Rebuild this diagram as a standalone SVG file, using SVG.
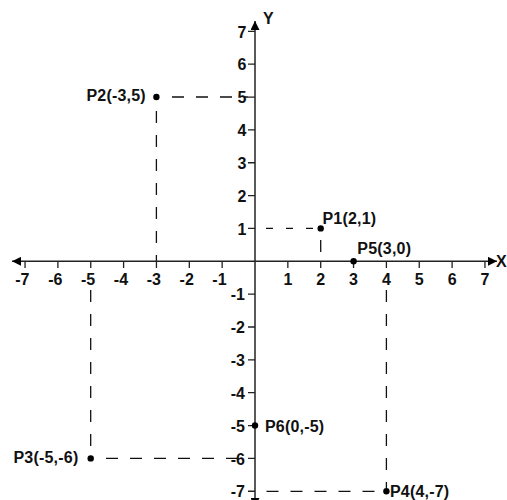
<svg xmlns="http://www.w3.org/2000/svg" width="507" height="500" viewBox="0 0 507 500">
<style>
.axis{stroke:#222;stroke-width:1.5;fill:none}
.tick{stroke:#222;stroke-width:1.3}
.dash{stroke:#111;stroke-width:1.3;stroke-dasharray:12 12;fill:none}
.dash2{stroke:#111;stroke-width:1.3;stroke-dasharray:7 13;fill:none}
text{font-family:"Liberation Sans",Arial,sans-serif;font-weight:bold;font-size:16px;fill:#111}
.xl{text-anchor:end}
.yl{text-anchor:end}
.pl{letter-spacing:0.2px}
.dot{fill:#000}
</style>
<defs>
<marker id="arr" viewBox="0 0 10 10" refX="10" refY="5" markerWidth="9" markerHeight="9" markerUnits="userSpaceOnUse" orient="auto">
<path d="M0,0 L10,5 L0,10 Z" fill="#000"/>
</marker>
</defs>
<rect width="507" height="500" fill="#fff"/>
<g id="connectors">
<path class="dash2" d="M266,228.4 H320.7"/>
<path class="dash" d="M320.7,240 V261"/>
<path class="dash" d="M172,97 H248"/>
<path class="dash" d="M156.4,111 V261"/>
<path class="dash" d="M106,458.4 H248"/>
<path class="dash" d="M90.7,290 V458"/>
<path class="dash" d="M266.5,491.3 H383"/>
<path class="dash" d="M386.4,290 V488"/>
</g>
<g id="axes">
<line class="axis" x1="255" y1="261.3" x2="12" y2="261.3" marker-end="url(#arr)"/>
<line class="axis" x1="255" y1="261.3" x2="497" y2="261.3" marker-end="url(#arr)"/>
<line class="axis" x1="255" y1="261.3" x2="255" y2="21" marker-end="url(#arr)"/>
<line class="axis" x1="255" y1="261.3" x2="255" y2="507" marker-end="url(#arr)"/>
<text x="496" y="267">X</text>
<text x="263" y="24">Y</text>
</g>
<g id="x-ticks">
<path class="tick" d="M25.05,261 v7 M57.9,261 v7 M90.75,261 v7 M123.6,261 v7 M156.45,261 v7 M189.3,261 v7 M222.15,261 v7 M287.85,261 v7 M320.7,261 v7 M353.55,261 v7 M386.4,261 v7 M419.25,261 v7 M452.1,261 v7 M484.95,261 v7"/>
<text class="xl" x="29.5" y="284.5">-7</text>
<text class="xl" x="62.4" y="284.5">-6</text>
<text class="xl" x="95.2" y="284.5">-5</text>
<text class="xl" x="128.1" y="284.5">-4</text>
<text class="xl" x="160.9" y="284.5">-3</text>
<text class="xl" x="193.8" y="284.5">-2</text>
<text class="xl" x="226.6" y="284.5">-1</text>
<text class="xl" x="292.3" y="284.5">1</text>
<text class="xl" x="325.2" y="284.5">2</text>
<text class="xl" x="358" y="284.5">3</text>
<text class="xl" x="390.9" y="284.5">4</text>
<text class="xl" x="423.7" y="284.5">5</text>
<text class="xl" x="456.6" y="284.5">6</text>
<text class="xl" x="489.4" y="284.5">7</text>
</g>
<g id="y-ticks">
<path class="tick" d="M248,31.35 h7 M248,64.2 h7 M248,97.05 h7 M248,129.9 h7 M248,162.75 h7 M248,195.6 h7 M248,228.45 h7 M248,294.15 h7 M248,327 h7 M248,359.85 h7 M248,392.7 h7 M248,425.55 h7 M248,458.4 h7 M248,491.25 h7"/>
<text class="yl" x="246.5" y="37.5">7</text>
<text class="yl" x="246.5" y="70.3">6</text>
<text class="yl" x="246.5" y="103.2">5</text>
<text class="yl" x="246.5" y="136">4</text>
<text class="yl" x="246.5" y="168.9">3</text>
<text class="yl" x="246.5" y="201.7">2</text>
<text class="yl" x="246.5" y="234.6">1</text>
<text class="yl" x="245" y="300.3">-1</text>
<text class="yl" x="245" y="333.1">-2</text>
<text class="yl" x="245" y="366">-3</text>
<text class="yl" x="245" y="398.8">-4</text>
<text class="yl" x="245" y="431.7">-5</text>
<text class="yl" x="245" y="464.5">-6</text>
<text class="yl" x="245" y="497.4">-7</text>
</g>
<g id="P1">
<circle class="dot" cx="320.7" cy="228.4" r="3.2"/>
<text class="pl" x="322.5" y="223.5">P1(2,1)</text>
</g>
<g id="P2">
<circle class="dot" cx="156.4" cy="97" r="3.2"/>
<text class="pl" x="86.5" y="100.5">P2(-3,5)</text>
</g>
<g id="P3">
<circle class="dot" cx="90.7" cy="458.4" r="3.2"/>
<text class="pl" x="13.5" y="463">P3(-5,-6)</text>
</g>
<g id="P4">
<circle class="dot" cx="386.4" cy="491.3" r="3.2"/>
<text class="pl" x="390" y="497">P4(4,-7)</text>
</g>
<g id="P5">
<circle class="dot" cx="353.6" cy="261.3" r="3.2"/>
<text class="pl" x="357.3" y="254">P5(3,0)</text>
</g>
<g id="P6">
<circle class="dot" cx="255" cy="425.5" r="3.2"/>
<text class="pl" x="265" y="432">P6(0,-5)</text>
</g>
</svg>
